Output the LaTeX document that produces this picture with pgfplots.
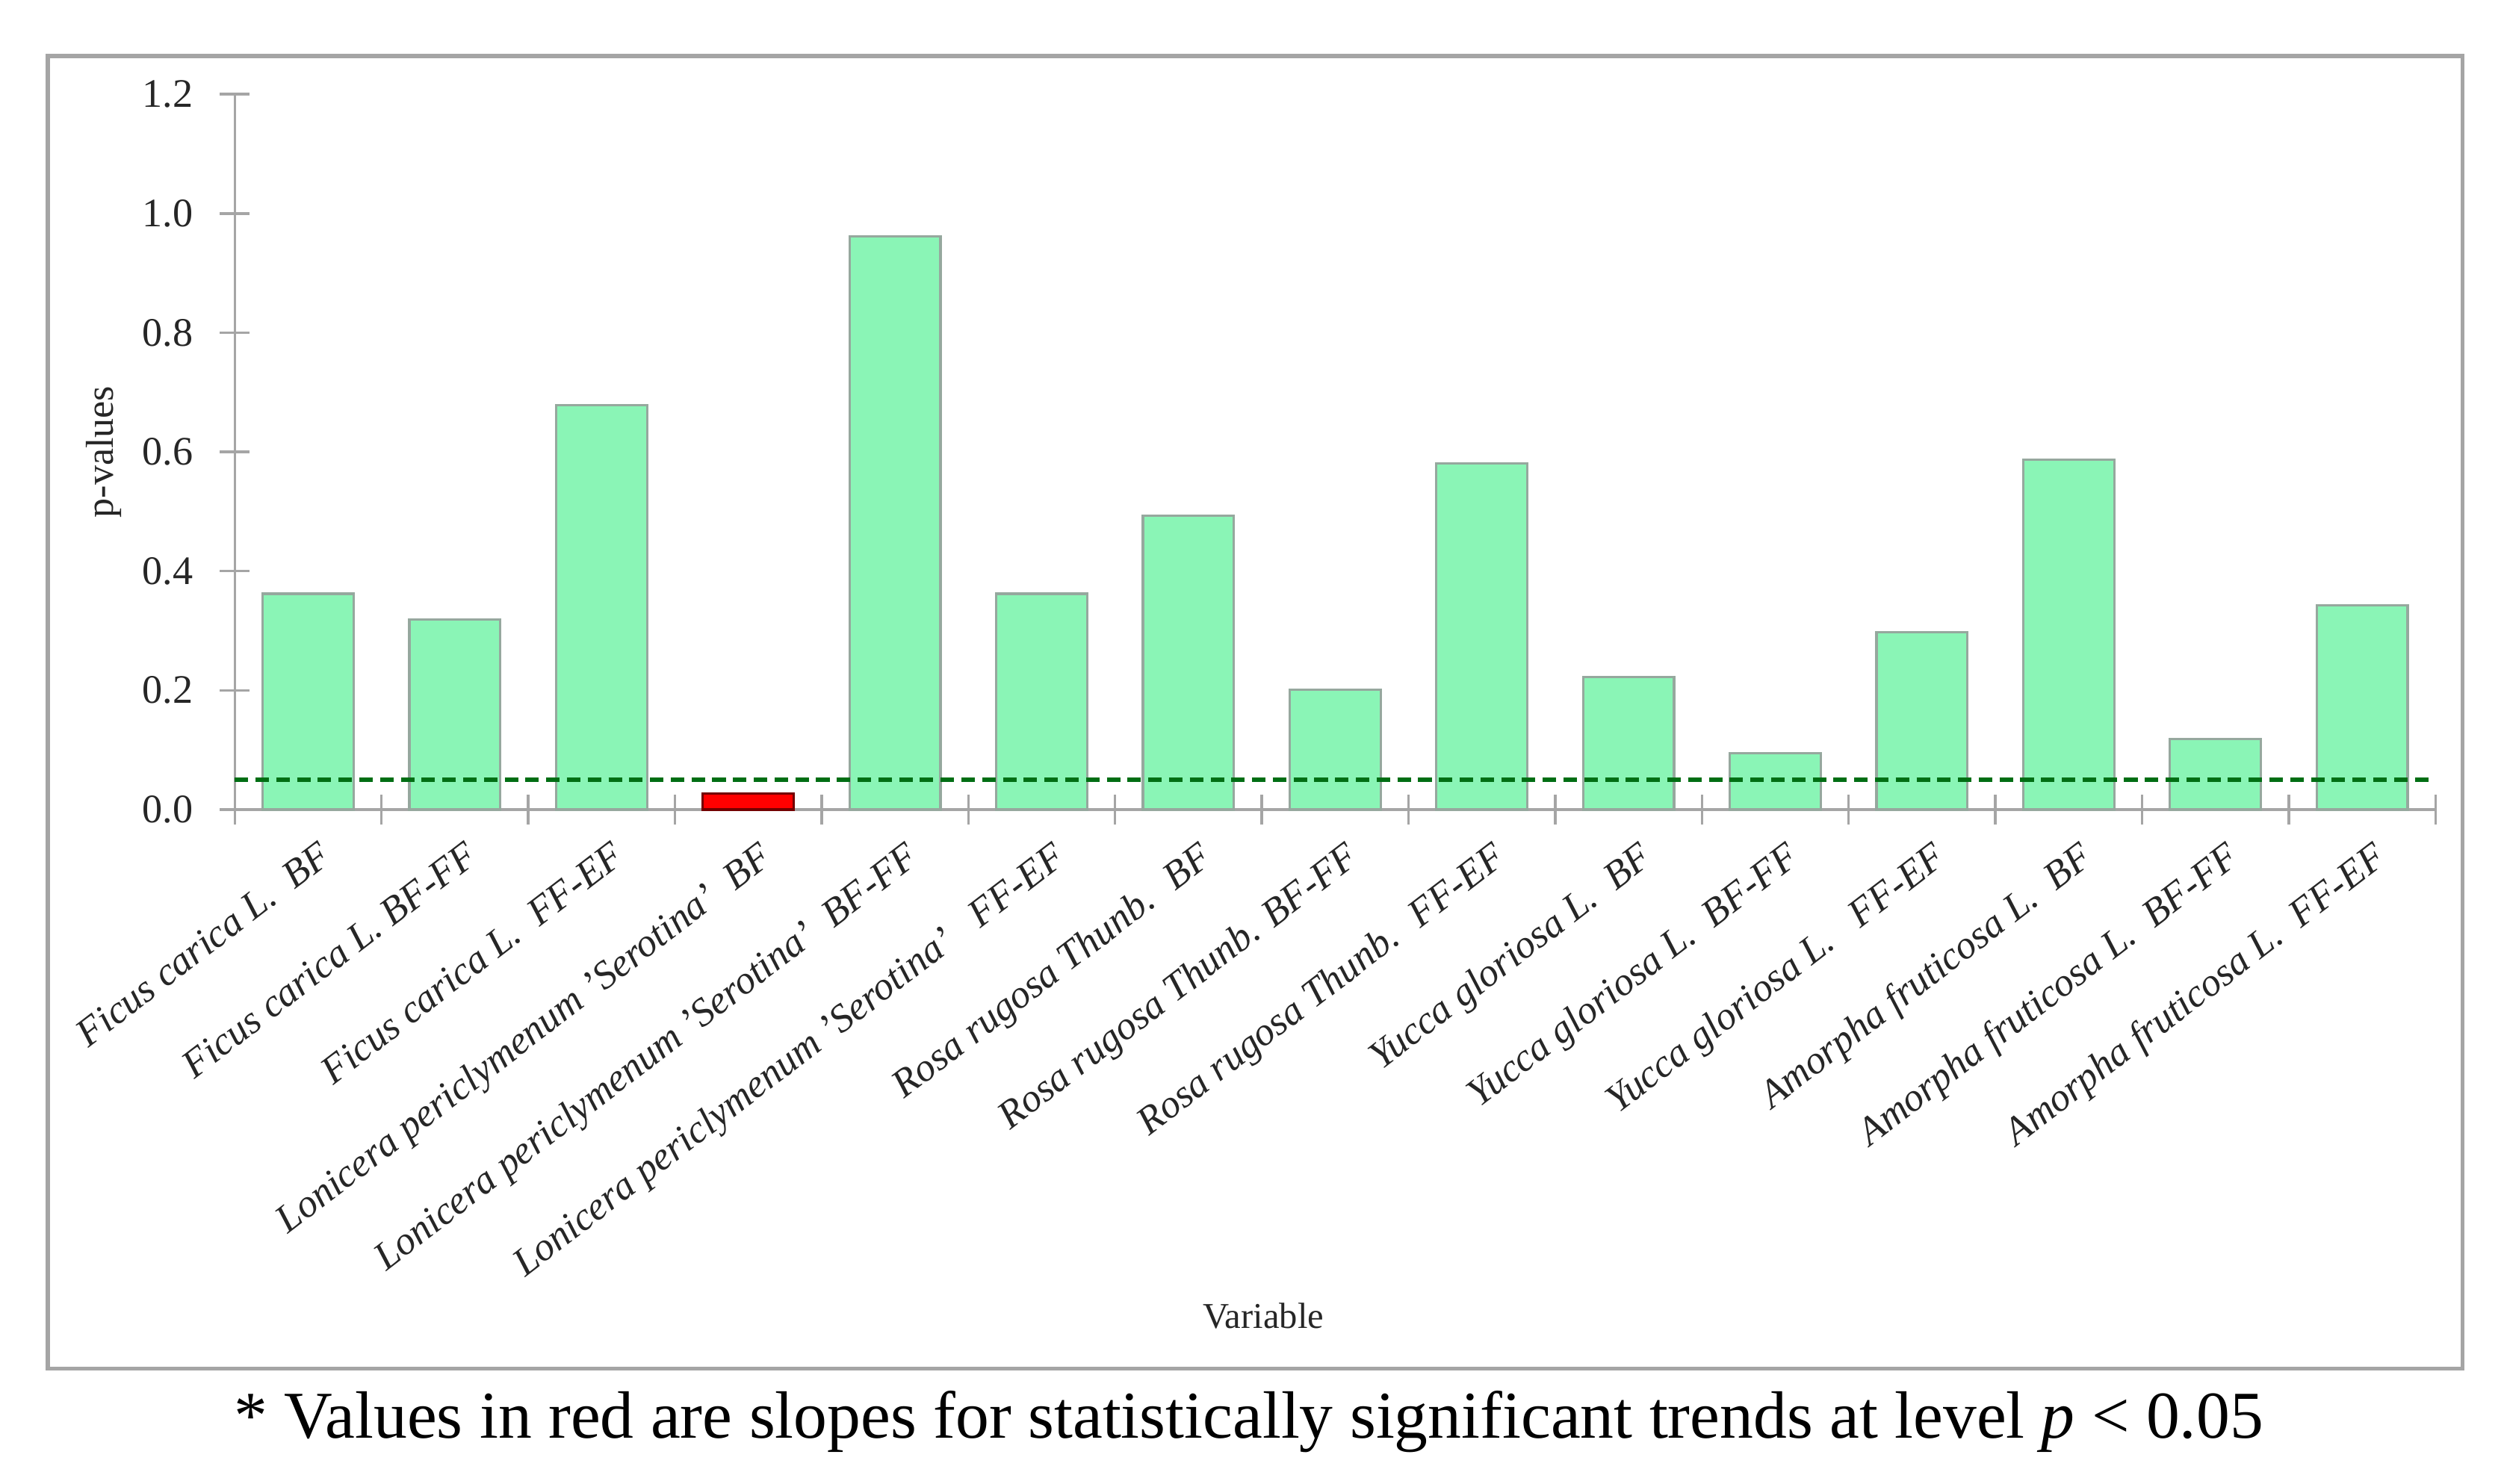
\documentclass[border=0pt]{standalone}
\usepackage{fontspec}
\setmainfont{Liberation Serif}
\usepackage{pgfplots}
\pgfplotsset{compat=1.18}
\definecolor{barg}{RGB}{138,245,182}
\definecolor{barline}{RGB}{150,168,158}
\definecolor{dgreen}{RGB}{0,110,20}
\definecolor{axgray}{RGB}{165,165,165}
\begin{document}
\begin{tikzpicture}
\begin{axis}[
  scale only axis, width=424pt, height=137.85pt,
  xmin=-0.5, xmax=14.5, ymin=0, ymax=1.2,
  axis lines=left, axis line style={-, axgray, line width=0.5pt},
  clip=false,
  tick align=center, major tick length=5.8pt,
  tick style={axgray, line width=0.5pt},
  ytick={0,0.2,0.4,0.6,0.8,1.0,1.2},
  /pgf/number format/assume math mode=true,
  yticklabel style={/pgf/number format/fixed, /pgf/number format/fixed zerofill, /pgf/number format/precision=1,
    font=\fontsize{7.8}{9}\selectfont, text=black!85, xshift=-1.6pt},
  xtick={-0.5,0.5,...,14.5},
  xticklabels={},
  extra x ticks={0,1,2,3,4,5,6,7,8,9,10,11,12,13,14},
  extra x tick labels={
    {Ficus carica L.~ BF},
    {Ficus carica L. BF-FF},
    {Ficus carica L.~ FF-EF},
    {Lonicera periclymenum ’Serotina’~ BF},
    {Lonicera periclymenum ’Serotina’~ BF-FF},
    {Lonicera periclymenum ’Serotina’~~ FF-EF},
    {Rosa rugosa Thunb.~ BF},
    {Rosa rugosa Thunb. BF-FF},
    {Rosa rugosa Thunb.~ FF-EF},
    {Yucca gloriosa L.~ BF},
    {Yucca gloriosa L.~ BF-FF},
    {Yucca gloriosa L.~~ FF-EF},
    {Amorpha fruticosa L.~ BF},
    {Amorpha fruticosa L.~ BF-FF},
    {Amorpha fruticosa L.~ FF-EF}},
  extra x tick style={major tick length=0pt,
    xticklabel style={rotate=37.5, anchor=north east, font=\fontsize{7.6}{9}\selectfont\itshape, text=black!85, inner sep=1pt, yshift=-4.5pt, xshift=-1pt}},
]
\addplot[ybar, bar width=0.62, bar shift=0pt, fill=barg, draw=barline, line width=0.45pt]
  coordinates {(0,0.362) (1,0.319) (2,0.678) (4,0.962) (5,0.362) (6,0.493) (7,0.201)
               (8,0.581) (9,0.222) (10,0.094) (11,0.297) (12,0.587) (13,0.118) (14,0.343)};
\addplot[ybar, bar width=0.62, bar shift=0pt, fill=red, draw=red!45!black, line width=0.45pt]
  coordinates {(3,0.027)};
\addplot[dgreen, line width=0.9pt, dash pattern=on 2.6pt off 1.4pt]
  coordinates {(-0.5,0.05) (14.5,0.05)};
\draw[axgray, line width=0.8pt] (axis cs:-1.7735,-0.9376) rectangle (axis cs:14.685,1.2643);
\node[font=\fontsize{7}{8}\selectfont, anchor=base, text=black!85] at (axis cs:6.51,-0.8706) {Variable};
\node[rotate=90, font=\fontsize{7.5}{8}\selectfont, text=black!85] at (axis cs:-1.3926,0.60) {p-values};
\node[font=\fontsize{12.9}{14}\selectfont, anchor=base] at (axis cs:6.412,-1.0549)
  {* Values in red are slopes for statistically significant trends at level \textit{p} < 0.05};
\coordinate (BL) at (axis cs:-2.1,-1.1305);
\coordinate (TR) at (axis cs:14.967,1.358);
\end{axis}
\pgfresetboundingbox
\path[use as bounding box] (BL) rectangle (TR);
\end{tikzpicture}
\end{document}
